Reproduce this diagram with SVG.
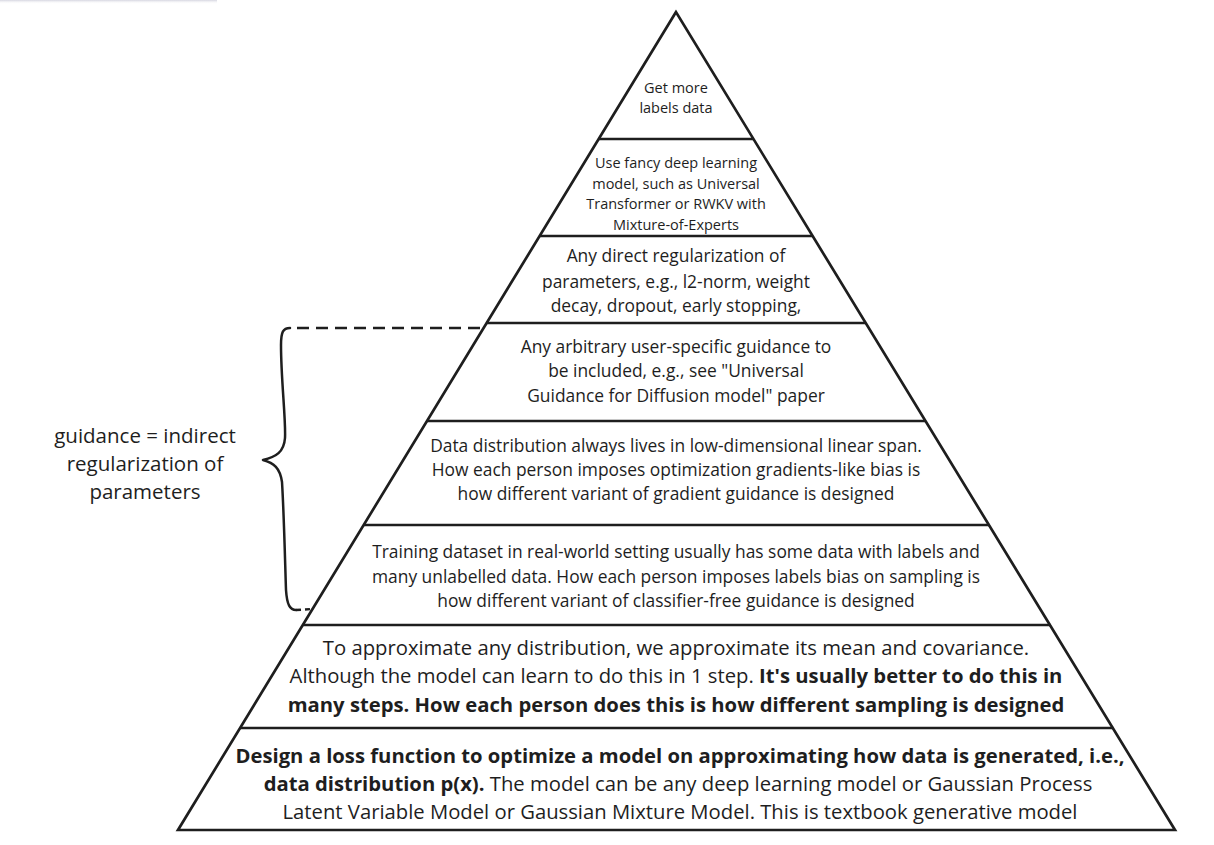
<svg xmlns="http://www.w3.org/2000/svg" width="1214" height="845" viewBox="0 0 1214 845">
<defs>
<style>
.t{font-family:"Open Sans","Noto Sans",sans-serif;fill:#1e1e1e;text-anchor:middle}
.s13{font-size:14.5px}.s15{font-size:17.4px}.s18{font-size:20.25px}.s20{font-size:20.5px}
.b{font-weight:bold}
.edge{fill:none;stroke:#1e1e1e;stroke-width:2.7;stroke-linejoin:miter}
.div{stroke:#1e1e1e;stroke-width:2.5}
.brace{fill:none;stroke:#1e1e1e;stroke-width:2.5;stroke-linecap:round;stroke-linejoin:round}
.dash{fill:none;stroke:#1e1e1e;stroke-width:2.5;stroke-dasharray:12 7}
</style>
<linearGradient id="sh" x1="0" y1="0" x2="0" y2="1"><stop offset="0" stop-color="#d6d6e0"/><stop offset="1" stop-color="#ffffff" stop-opacity="0"/></linearGradient>
</defs>
<rect x="0" y="0" width="1214" height="845" fill="#ffffff"/>
<rect x="0" y="0" width="217" height="4" fill="url(#sh)"/>
<g id="pyramid">
<polygon class="edge" points="676,12 178,830 1175,830"/>
</g>
<g id="connectors">
<line class="div" x1="598.7" y1="139" x2="753.5" y2="139"/>
<line class="div" x1="539.6" y1="236" x2="812.8" y2="236"/>
<line class="div" x1="486.6" y1="323" x2="866" y2="323"/>
<line class="div" x1="426.9" y1="421" x2="925.9" y2="421"/>
<line class="div" x1="363.6" y1="525" x2="989.2" y2="525"/>
<line class="div" x1="302.6" y1="625" x2="1050.4" y2="625"/>
<line class="div" x1="239.9" y1="728" x2="1113.3" y2="728"/>
<path class="dash" d="M297 328 L484 328"/>
<path class="brace" d="M290 328 C283 328 281 332 281 345 C281 380 286 420 285 438 C284 452 276 457 263 460 C274 463 280 468 282 482 C284 515 285 560 286 590 C287 605 290 610 296 610"/>
<path class="dash" d="M296 610 L312 609" style="stroke-dasharray:5 4"/>
</g>
<g id="level1">
<text class="t s13" x="676" y="93">Get more</text>
<text class="t s13" x="676" y="113">labels data</text>
</g>
<g id="level2">
<text class="t s13" x="676" y="168">Use fancy deep learning</text>
<text class="t s13" x="676" y="188.5">model, such as Universal</text>
<text class="t s13" x="676" y="209">Transformer or RWKV with</text>
<text class="t s13" x="676" y="229.5">Mixture-of-Experts</text>
</g>
<g id="level3">
<text class="t s15" x="676" y="262">Any direct regularization of</text>
<text class="t s15" x="676" y="288">parameters, e.g., l2-norm, weight</text>
<text class="t s15" x="676" y="312">decay, dropout, early stopping,</text>
</g>
<g id="level4">
<text class="t s15" x="676" y="353">Any arbitrary user-specific guidance to</text>
<text class="t s15" x="676" y="377">be included, e.g., see "Universal</text>
<text class="t s15" x="676" y="402">Guidance for Diffusion model" paper</text>
</g>
<g id="level5">
<text class="t s15" x="676" y="452">Data distribution always lives in low-dimensional linear span.</text>
<text class="t s15" x="676" y="476">How each person imposes optimization gradients-like bias is</text>
<text class="t s15" x="676" y="500">how different variant of gradient guidance is designed</text>
</g>
<g id="level6">
<text class="t s15" x="676" y="558">Training dataset in real-world setting usually has some data with labels and</text>
<text class="t s15" x="676" y="583">many unlabelled data. How each person imposes labels bias on sampling is</text>
<text class="t s15" x="676" y="607">how different variant of classifier-free guidance is designed</text>
</g>
<g id="level7">
<text class="t s18" x="676" y="655">To approximate any distribution, we approximate its mean and covariance.</text>
<text class="t s18" x="676" y="683">Although the model can learn to do this in 1 step. <tspan class="b">It's usually better to do this in</tspan></text>
<text class="t s18 b" x="676" y="712">many steps. How each person does this is how different sampling is designed</text>
</g>
<g id="level8">
<text class="t s18 b" x="680" y="763">Design a loss function to optimize a model on approximating how data is generated, i.e.,</text>
<text class="t s18" x="678" y="791"><tspan class="b">data distribution p(x).</tspan> The model can be any deep learning model or Gaussian Process</text>
<text class="t s18" x="680" y="819">Latent Variable Model or Gaussian Mixture Model. This is textbook generative model</text>
</g>
<g id="label">
<text class="t s20" x="145" y="443">guidance = indirect</text>
<text class="t s20" x="145" y="471">regularization of</text>
<text class="t s20" x="145" y="499">parameters</text>
</g>
</svg>
